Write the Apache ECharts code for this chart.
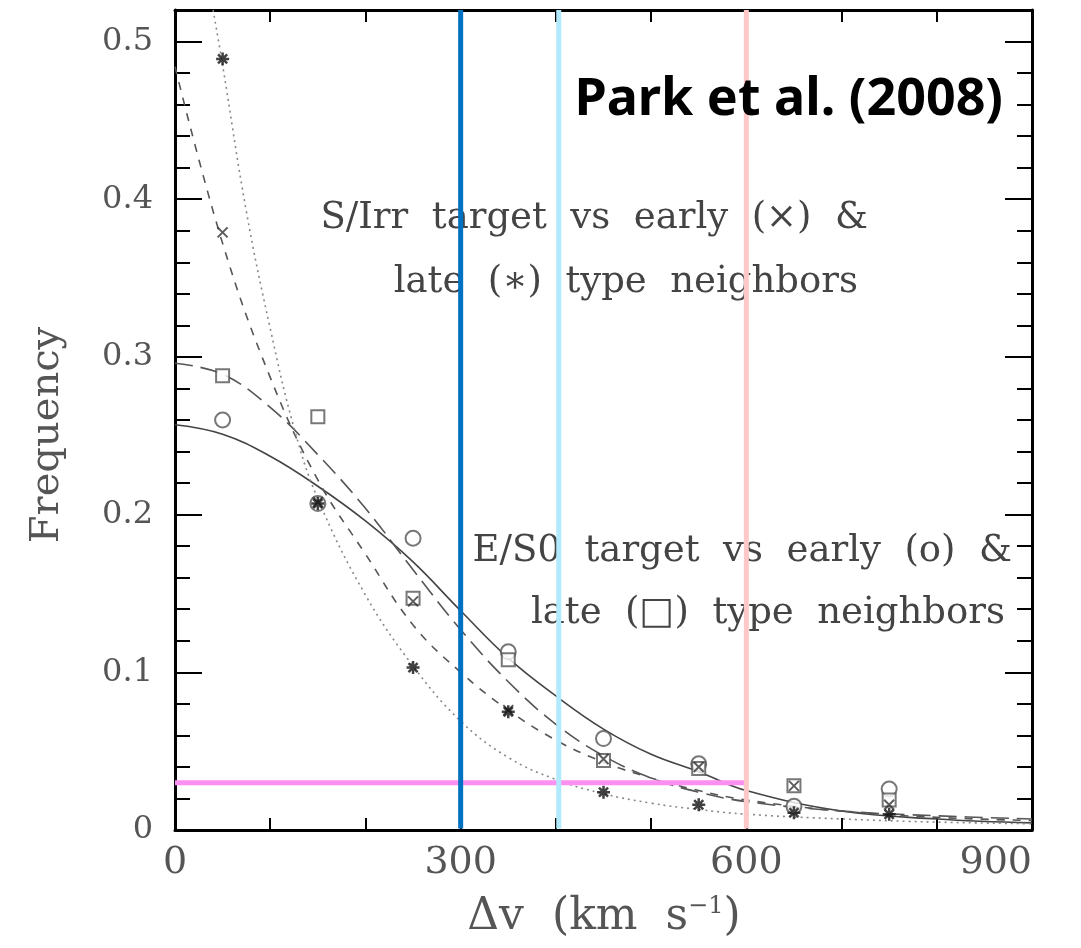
<!DOCTYPE html>
<html><head><meta charset="utf-8">
<script src="https://cdn.jsdelivr.net/npm/echarts@6/dist/echarts.min.js"></script>
<style>html,body{margin:0;padding:0;background:#fff}#c{width:1081px;height:948px}</style>
</head><body><div id="c"></div>
<script>
// Binned data points (bin centres, km/s)
const binX = [50, 150, 250, 350, 450, 550, 650, 750];
const sirrLate  = [0.489, 0.207, 0.103, 0.075, 0.024, 0.016, 0.011, 0.010]; // asterisk
const sirrEarly = [0.379, 0.208, 0.145, 0.076, 0.045, 0.040, 0.028, 0.016]; // cross
const es0Early  = [0.260, 0.207, 0.185, 0.113, 0.058, 0.042, 0.015, 0.026]; // circle
const es0Late   = [0.288, 0.262, 0.147, 0.108, 0.044, 0.039, 0.028, 0.019]; // square

// Fitted curves
const fitX      = [0, 50, 100, 150, 200, 250, 300, 350, 400, 450, 500, 550, 600, 700, 800, 900];
const fitCircle = [0.257, 0.251, 0.237, 0.218, 0.196, 0.170, 0.139, 0.109, 0.085, 0.064, 0.048, 0.037, 0.025, 0.012, 0.007, 0.0045];
const fitSquare = [0.296, 0.289, 0.268, 0.238, 0.204, 0.165, 0.127, 0.094, 0.067, 0.047, 0.033, 0.024, 0.018, 0.012, 0.009, 0.007];
const fitCross  = [0.484, 0.372, 0.287, 0.222, 0.175, 0.130, 0.100, 0.076, 0.057, 0.043, 0.033, 0.025, 0.019, 0.012, 0.008, 0.006];
const fitStarX  = [40, 50, 75, 100, 125, 150, 200, 250, 300, 350, 400, 450, 500, 550, 600, 700, 800, 900];
const fitStar   = [0.52, 0.485, 0.392, 0.318, 0.255, 0.210, 0.149, 0.104, 0.069, 0.046, 0.032, 0.023, 0.017, 0.013, 0.010, 0.007, 0.005, 0.004];

// Highlight lines
const vLines = [300, 403, 600];
const vColors = ['#0070c0', '#b0eafc', '#ffc8c8'];
const hLineY = 0.03;
const hLineX = [0, 600];

const xTickLabels = [0, 300, 600, 900];
const yTickLabels = [0, 0.1, 0.2, 0.3, 0.4, 0.5];

const zip = (xs, ys) => xs.map((x, i) => [x, ys[i]]);
const chart = echarts.init(document.getElementById('c'), null, {renderer: 'canvas'});

const serif = 'DejaVu Serif';
const axCommon = {
  axisLine: {show: true, onZero: false, lineStyle: {color: '#000', width: 3}},
  splitLine: {show: false}
};
const xAxisBase = Object.assign({}, axCommon, {
  type: 'value', min: 0, max: 900, interval: 100,
  axisTick: {inside: true, length: 12, lineStyle: {color: '#000', width: 2}}
});
const yAxisBase = Object.assign({}, axCommon, {
  type: 'value', min: 0, max: 0.52, interval: 0.1,
  axisTick: {inside: true, length: 27, lineStyle: {color: '#000', width: 2}},
  minorTick: {show: true, splitNumber: 5, length: 15, lineStyle: {color: '#000', width: 2}}
});

const sym = {
  cross: 'path://M0,0L10,10M10,0L0,10',
  star: 'path://M5,0L5,10M0,5L10,5M1.5,1.5L8.5,8.5M8.5,1.5L1.5,8.5'
};

const series = [
  {type: 'line', data: zip(fitX, fitCircle), smooth: 0.4, showSymbol: false, lineStyle: {color: '#444', width: 1.6, type: 'solid'}, z: 2},
  {type: 'line', data: zip(fitX, fitSquare), smooth: 0.4, showSymbol: false, lineStyle: {color: '#555', width: 1.6, type: [18, 8]}, z: 2},
  {type: 'line', data: zip(fitX, fitCross), smooth: 0.4, showSymbol: false, lineStyle: {color: '#555', width: 1.6, type: [8, 8]}, z: 2},
  {type: 'line', data: zip(fitStarX, fitStar), smooth: 0.4, showSymbol: false, lineStyle: {color: '#888', width: 1.6, type: [2, 4]}, z: 2},
  {type: 'scatter', data: zip(binX, es0Early), symbol: 'emptyCircle', symbolSize: 15, itemStyle: {color: '#555', borderWidth: 1.5}, z: 3},
  {type: 'scatter', data: zip(binX, es0Late), symbol: 'emptyRect', symbolSize: 13, itemStyle: {color: '#555', borderWidth: 1.5}, z: 3},
  {type: 'scatter', data: zip(binX, sirrEarly), symbol: sym.cross, symbolSize: 10, itemStyle: {color: 'rgba(0,0,0,0)', borderColor: '#333', borderWidth: 2}, z: 3},
  {type: 'scatter', data: zip(binX, sirrLate), symbol: sym.star, symbolSize: 13, itemStyle: {color: 'rgba(0,0,0,0)', borderColor: '#111', borderWidth: 2.5}, z: 3},
  {type: 'line', data: zip(hLineX, [hLineY, hLineY]), showSymbol: false, lineStyle: {color: '#fb8ff2', width: 5}, z: 5, silent: true}
];
vLines.forEach((v, i) => {
  series.push({type: 'line', data: [[v, 0.001], [v, 0.52]], showSymbol: false, lineStyle: {color: vColors[i], width: 5}, z: 5, silent: true});
});

const annot = (text, right, cy) => ({
  type: 'text', z: 1,
  style: {text: text, x: right, y: cy, font: '37px "' + serif + '"', fill: '#444', textAlign: 'right', textVerticalAlign: 'middle'}
});

chart.setOption({
  animation: false,
  backgroundColor: '#fff',
  grid: {left: 175, right: 49, top: 10, bottom: 118, containLabel: false},
  xAxis: [
    Object.assign({}, xAxisBase, {
      position: 'bottom',
      axisLabel: {margin: 14, fontFamily: serif, fontSize: 38, color: '#555', alignMaxLabel: 'right',
        formatter: v => xTickLabels.includes(v) ? String(v) : ''}
    }),
    Object.assign({}, xAxisBase, {position: 'top', axisLabel: {show: false}})
  ],
  yAxis: [
    Object.assign({}, yAxisBase, {
      position: 'left',
      axisLabel: {margin: 22, fontFamily: serif, fontSize: 32, color: '#555', showMaxLabel: false,
        formatter: v => {
          const r = Math.round(v * 10) / 10;
          return (Math.abs(r - v) < 1e-6 && yTickLabels.includes(r)) ? (r === 0 ? '0' : r.toFixed(1)) : '';
        }}
    }),
    Object.assign({}, yAxisBase, {position: 'right', axisLabel: {show: false}})
  ],
  series: series,
  graphic: [
    annot('S/Irr  target  vs  early  (×)  &', 868, 218),
    annot('late  (∗)  type  neighbors', 858, 282),
    annot('E/S0  target  vs  early  (o)  &', 1012, 551),
    annot('late  (□)  type  neighbors', 1005, 613),
    {type: 'text', z: 100,
      style: {text: 'Park et al. (2008)', x: 1003, y: 100, font: 'bold 52px "Noto Sans"', fill: '#000', textAlign: 'right', textVerticalAlign: 'middle'}},
    {type: 'text', z: 1, x: 48, y: 435, rotation: Math.PI / 2,
      style: {text: 'Frequency', x: 0, y: 0, font: '40px "' + serif + '"', fill: '#555', textAlign: 'center', textVerticalAlign: 'middle'}},
    {type: 'text', z: 1,
      style: {x: 604, y: 918, textAlign: 'center', textVerticalAlign: 'middle',
        text: '{a|Δv}{g|}{a|(km}{g|}{a|s}{s|−1}{a|)}',
        rich: {
          a: {fontFamily: serif, fontSize: 44, fill: '#555', color: '#555'},
          g: {width: 28},
          s: {fontFamily: serif, fontSize: 24, fill: '#555', color: '#555', verticalAlign: 'top', padding: [0, 0, 22, 0]}
        }}}
  ]
});
</script>
</body></html>
